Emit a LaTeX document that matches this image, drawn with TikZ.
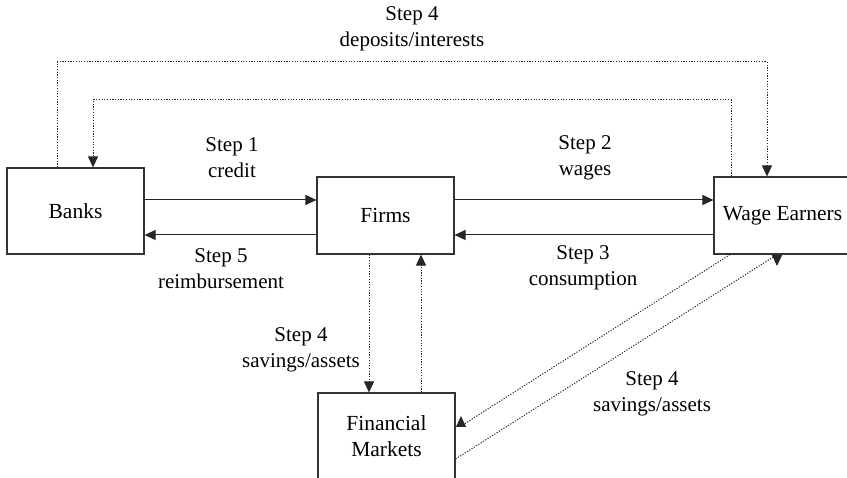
\documentclass[tikz,border=0pt]{standalone}
\usepackage{fontspec}
\setmainfont{Liberation Serif}
\usetikzlibrary{arrows.meta,calc}
\begin{document}
\begin{tikzpicture}[x=1pt,y=-1pt,
  box/.style={draw=black!80,line width=1.2pt,minimum width=137pt,inner sep=0pt,align=center,font=\fontsize{21.5}{26}\selectfont},
  lbl/.style={align=center,font=\fontsize{21}{26}\selectfont,inner sep=0pt},
  arr/.style={line width=1pt,draw=black!85,-{Triangle[length=11pt,width=10pt]}},
  dotarr/.style={arr,dash pattern=on 1.2pt off 1.5pt},
  dotline/.style={line width=1pt,draw=black!85,dash pattern=on 1.2pt off 1.5pt}]
\useasboundingbox (0,0) rectangle (847,478);
\clip (0,0) rectangle (847,478);
% boxes
\node[box,minimum height=86pt] (banks) at (75.5,211) {Banks};
\node[box,minimum height=77pt] (firms) at (385.5,215.5) {Firms};
\node[box,minimum height=77pt] (wage) at (782.5,215.5) {Wage Earners};
\node[box,minimum height=86pt] (fm) at (386.5,436) {Financial\\Markets};
% labels
\node[lbl] (l1) at (232,158) {Step 1\\credit};
\node[lbl] (l2) at (585,158) {Step 2\\wages};
\node[lbl] (l5) at (221,268.5) {Step 5\\reimbursement};
\node[lbl] (l3) at (583,268) {Step 3\\consumption};
\node[lbl] (l4a) at (301,350) {Step 4\\savings/assets};
\node[lbl] (l4b) at (652,394) {Step 4\\savings/assets};
\node[lbl] (l4c) at (412,29) {Step 4\\deposits/interests};
% helper coordinates
\coordinate (r1) at (0,200);
\coordinate (r2) at (0,235);
\coordinate (c1) at (369,0);
\coordinate (c2) at (421,0);
\coordinate (t1) at (57,62);
\coordinate (t2) at (767,62);
\coordinate (t3) at (731,100);
\coordinate (t4) at (93,100);
\coordinate (d1) at (730,0);
\coordinate (d2) at (777,0);
\coordinate (q1) at (0,459);
\coordinate (fa) at (461,426);
\coordinate (fb) at (461,416);
\coordinate (wb) at (777,266);
% solid arrows
\draw[arr] (banks.east |- r1) -- (firms.west |- r1);
\draw[arr] (firms.west |- r2) -- (banks.east |- r2);
\draw[arr] (firms.east |- r1) -- (wage.west |- r1);
\draw[arr] (wage.west |- r2) -- (firms.east |- r2);
% vertical dotted
\draw[dotarr] (firms.south -| c1) -- (fm.north -| c1);
\draw[dotarr] (fm.north -| c2) -- (firms.south -| c2);
% top loops
\draw[dotarr] (banks.north -| t1) -- (t1) -- (t2) -- (wage.north -| t2);
\draw[dotarr] (wage.north -| t3) -- (t3) -- (t4) -- (banks.north -| t4);
% diagonals
\draw[dotline] (wage.south -| d1) -- (fa);
\draw[arr] (fa) -- (fb);
\draw[dotline] (fm.east |- q1) -- (wage.south -| d2);
\draw[arr] (wage.south -| d2) -- (wb);
\end{tikzpicture}
\end{document}
